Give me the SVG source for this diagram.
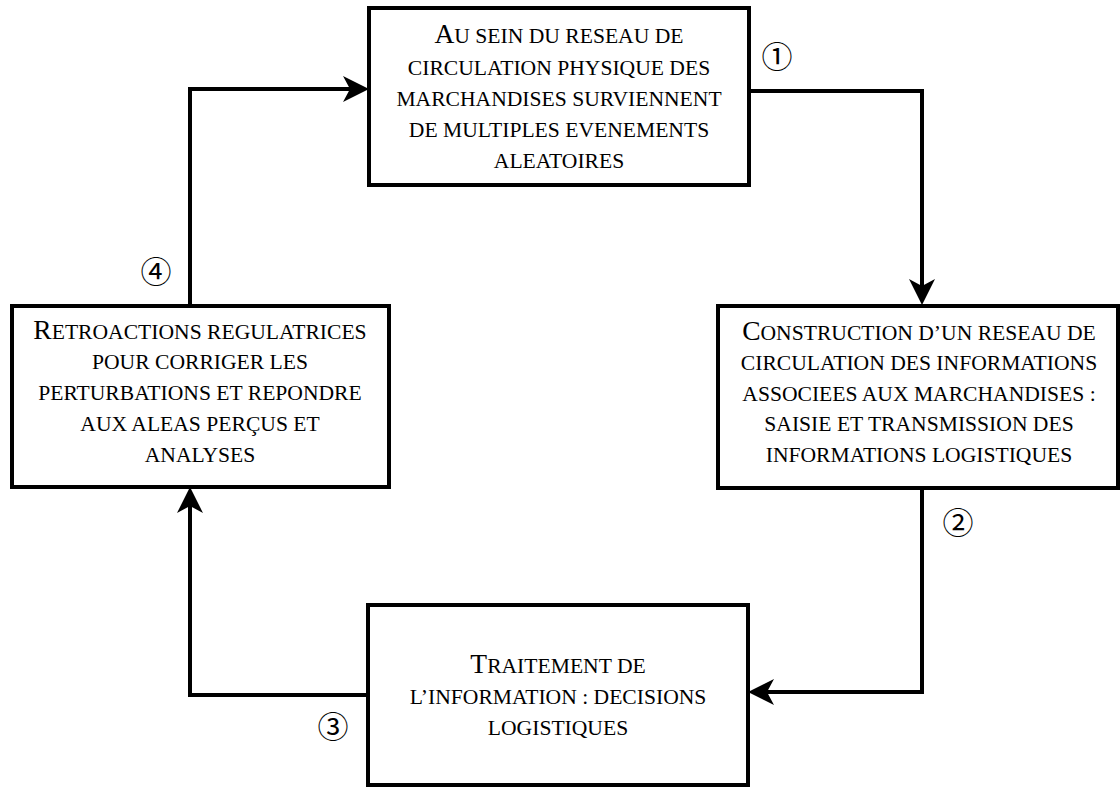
<svg xmlns="http://www.w3.org/2000/svg" width="1120" height="787" viewBox="0 0 1120 787">
<style>
.box{fill:#fff;stroke:#000;stroke-width:4}
.ln{fill:none;stroke:#000;stroke-width:4;stroke-linejoin:miter;marker-end:url(#ah)}
</style>
<defs>
<marker id="ah" markerUnits="userSpaceOnUse" viewBox="0 0 26 26" markerWidth="26" markerHeight="26" refX="16" refY="13" orient="auto">
<path d="M0,0 L26,13 L0,26 L7,13 Z" fill="#000"/>
</marker>
</defs>
<g id="connectors">
<polyline class="ln" points="749,91 922,91 922,295"/>
<polyline class="ln" points="922,488 922,692 758,692"/>
<polyline class="ln" points="368,695 190,695 190,497"/>
<polyline class="ln" points="190,305 190,89 359,89"/>
</g>
<g id="node1">
<rect class="box" x="369" y="8" width="380" height="177"/>
<text style="font-family:'Liberation Serif',serif;font-size:21.6px" text-anchor="middle" x="559" y="43"><tspan style="font-size:27.5px">A</tspan>U SEIN DU RESEAU DE</text>
<text style="font-family:'Liberation Serif',serif;font-size:21.6px" text-anchor="middle" x="559" y="75">CIRCULATION PHYSIQUE DES</text>
<text style="font-family:'Liberation Serif',serif;font-size:21.6px" text-anchor="middle" x="559" y="106">MARCHANDISES SURVIENNENT</text>
<text style="font-family:'Liberation Serif',serif;font-size:21.6px" text-anchor="middle" x="559" y="137">DE MULTIPLES EVENEMENTS</text>
<text style="font-family:'Liberation Serif',serif;font-size:21.6px" text-anchor="middle" x="559" y="168">ALEATOIRES</text>
</g>
<g id="node2">
<rect class="box" x="718" y="306" width="400" height="182"/>
<text style="font-family:'Liberation Serif',serif;font-size:21.6px" text-anchor="middle" x="919" y="340"><tspan style="font-size:27.5px">C</tspan>ONSTRUCTION D’UN RESEAU DE</text>
<text style="font-family:'Liberation Serif',serif;font-size:21.6px" text-anchor="middle" x="919" y="370">CIRCULATION DES INFORMATIONS</text>
<text style="font-family:'Liberation Serif',serif;font-size:21.6px" text-anchor="middle" x="919" y="401">ASSOCIEES AUX MARCHANDISES :</text>
<text style="font-family:'Liberation Serif',serif;font-size:21.6px" text-anchor="middle" x="919" y="431">SAISIE ET TRANSMISSION DES</text>
<text style="font-family:'Liberation Serif',serif;font-size:21.6px" text-anchor="middle" x="919" y="462">INFORMATIONS LOGISTIQUES</text>
</g>
<g id="node3">
<rect class="box" x="368" y="605" width="380" height="180"/>
<text style="font-family:'Liberation Serif',serif;font-size:21.6px" text-anchor="middle" x="558" y="673"><tspan style="font-size:27.5px">T</tspan>RAITEMENT DE</text>
<text style="font-family:'Liberation Serif',serif;font-size:21.6px" text-anchor="middle" x="558" y="704">L’INFORMATION : DECISIONS</text>
<text style="font-family:'Liberation Serif',serif;font-size:21.6px" text-anchor="middle" x="558" y="735">LOGISTIQUES</text>
</g>
<g id="node4">
<rect class="box" x="12" y="306" width="377" height="181"/>
<text style="font-family:'Liberation Serif',serif;font-size:21.6px" text-anchor="middle" x="200" y="339"><tspan style="font-size:27.5px">R</tspan>ETROACTIONS REGULATRICES</text>
<text style="font-family:'Liberation Serif',serif;font-size:21.6px" text-anchor="middle" x="200" y="369">POUR CORRIGER LES</text>
<text style="font-family:'Liberation Serif',serif;font-size:21.6px" text-anchor="middle" x="200" y="400">PERTURBATIONS ET REPONDRE</text>
<text style="font-family:'Liberation Serif',serif;font-size:21.6px" text-anchor="middle" x="200" y="431">AUX ALEAS PERÇUS ET</text>
<text style="font-family:'Liberation Serif',serif;font-size:21.6px" text-anchor="middle" x="200" y="462">ANALYSES</text>
</g>
<g id="labels" style="font-family:'Noto Sans CJK JP',sans-serif;font-size:31px" text-anchor="middle">
<text x="777" y="68">①</text>
<text x="958" y="534">②</text>
<text x="333" y="738">③</text>
<text x="156" y="283">④</text>
</g>
</svg>
